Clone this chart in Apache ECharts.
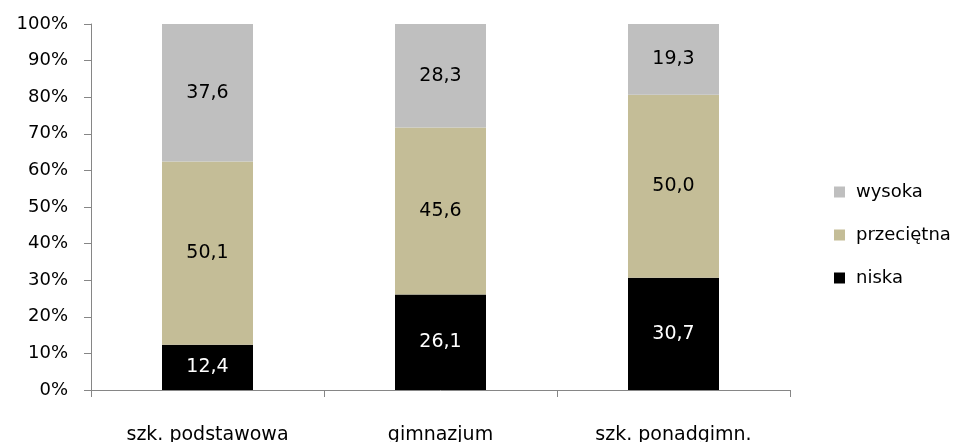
<!DOCTYPE html>
<html>
<head>
<meta charset="utf-8">
<script src="https://cdn.jsdelivr.net/npm/echarts@6/dist/echarts.min.js"></script>
<style>
  html, body { margin: 0; padding: 0; background: #fff; }
  #chart { width: 965px; height: 442px; }
</style>
</head>
<body>
<div id="chart"></div>
<script>
// ── Data ───────────────────────────────────────────────
const categories = ['szk. podstawowa', 'gimnazjum', 'szk. ponadgimn.'];
const niska      = [12.4, 26.1, 30.7];
const przecietna = [50.1, 45.6, 50.0];
const wysoka     = [37.6, 28.3, 19.3];
const yTicks     = [0, 10, 20, 30, 40, 50, 60, 70, 80, 90, 100];

// ── Config ─────────────────────────────────────────────
const FONT = "'DejaVu Sans', sans-serif";
const AXIS_COLOR = '#868686';

const chart = echarts.init(document.getElementById('chart'));

// stacked to 100% like the original
const totals = categories.map((_, i) => niska[i] + przecietna[i] + wysoka[i]);
const pct = arr => arr.map((v, i) => ({ value: v / totals[i] * 100, raw: v }));
const fmt = v => v.toFixed(1).replace('.', ',');

function series(name, arr, color, labelColor) {
  return {
    name,
    type: 'bar',
    stack: 'all',
    barWidth: 91,
    data: pct(arr),
    itemStyle: { color },
    label: {
      show: true,
      position: 'inside',
      color: labelColor,
      fontFamily: FONT,
      fontSize: 19,
      formatter: p => fmt(p.data.raw),
    },
  };
}

chart.setOption({
  animation: false,
  backgroundColor: '#fff',
  grid: { left: 91, right: 175, top: 24, bottom: 52, outerBoundsMode: 'none' },
  legend: {
    orient: 'vertical',
    left: 829,
    top: 178,
    itemWidth: 11,
    itemHeight: 11,
    itemGap: 25,
    icon: 'rect',
    data: ['wysoka', 'przeciętna', 'niska'],
    textStyle: { fontFamily: FONT, fontSize: 18, color: '#000', padding: [0, 0, 0, 6] },
  },
  xAxis: {
    type: 'category',
    data: categories,
    axisLine: { lineStyle: { color: AXIS_COLOR } },
    axisTick: { show: true, length: 7, lineStyle: { color: AXIS_COLOR } },
    axisLabel: { fontFamily: FONT, fontSize: 19, color: '#000', margin: 36 },
  },
  yAxis: {
    type: 'value',
    min: yTicks[0],
    max: yTicks[yTicks.length - 1],
    interval: 10,
    splitLine: { show: false },
    axisLine: { show: true, lineStyle: { color: AXIS_COLOR } },
    axisTick: { show: true, length: 7, lineStyle: { color: AXIS_COLOR } },
    axisLabel: {
      fontFamily: FONT, fontSize: 18, color: '#000', margin: 23,
      formatter: v => v + '%',
    },
  },
  series: [
    series('niska', niska, '#000000', '#ffffff'),
    series('przeciętna', przecietna, '#C4BD97', '#000000'),
    series('wysoka', wysoka, '#BFBFBF', '#000000'),
  ],
});
</script>
</body>
</html>
